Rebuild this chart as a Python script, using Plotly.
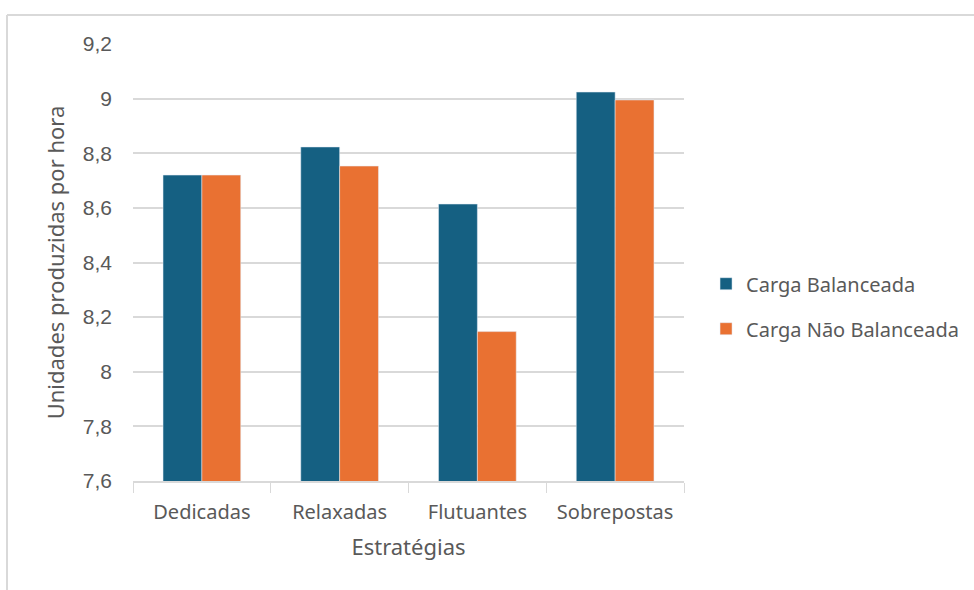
import plotly.graph_objects as go

categories = ["Dedicadas", "Relaxadas", "Flutuantes", "Sobrepostas"]
carga_balanceada = [8.72, 8.823, 8.614, 9.024]
carga_nao_balanceada = [8.72, 8.753, 8.147, 8.995]
series_names = ["Carga Balanceada", "Carga Não Balanceada"]
y_tickvals = [7.6, 7.8, 8.0, 8.2, 8.4, 8.6, 8.8, 9.0, 9.2]
y_ticktext = ["7,6", "7,8", "8", "8,2", "8,4", "8,6", "8,8", "9", "9,2"]

BLUE = "#156082"
ORANGE = "#E97132"
TXT = "#595959"
GRID = "#D9D9D9"
FONT = "Noto Sans"
NUMFONT = "Liberation Sans"

fig = go.Figure()
fig.add_trace(go.Bar(x=categories, y=carga_balanceada, name=series_names[0],
                     marker=dict(color=BLUE), legendgroup="a"))
fig.add_trace(go.Bar(x=categories, y=carga_nao_balanceada, name=series_names[1],
                     marker=dict(color=ORANGE), legendgroup="b"))

fig.update_layout(
    width=974, height=590,
    margin=dict(l=133, r=290, t=44, b=109, autoexpand=False),
    paper_bgcolor="white", plot_bgcolor="white",
    barmode="group", bargap=0.436, bargroupgap=0,
    font=dict(family=FONT, color=TXT, size=18),
    legend=dict(x=1.04, y=0.40, xanchor="left", yanchor="middle",
                font=dict(size=20, color=TXT), tracegroupgap=16,
                itemwidth=30),
    showlegend=True,
)
fig.update_yaxes(range=[7.6, 9.2], tickvals=y_tickvals, ticktext=y_ticktext,
                 showgrid=True, gridcolor=GRID, gridwidth=2, zeroline=False,
                 showline=False, tickfont=dict(family=NUMFONT, size=21, color=TXT),
                 ticklabelstandoff=20,
                 title=dict(text="Unidades produzidas por hora",
                            font=dict(size=22, color=TXT), standoff=12))
fig.update_xaxes(showline=True, linecolor=GRID, linewidth=2,
                 ticks="outside", tickson="boundaries", ticklen=10,
                 tickcolor=GRID, tickwidth=1,
                 tickfont=dict(size=20, color=TXT), ticklabelstandoff=12,
                 title=dict(text="Estratégias", font=dict(size=22, color=TXT),
                            standoff=16))

# outer chart border (top and left edges visible)
fig.add_shape(type="line", xref="paper", yref="paper",
              x0=-0.2287, x1=1.53, y0=1.0664, y1=1.0664,
              line=dict(color=GRID, width=2))
fig.add_shape(type="line", xref="paper", yref="paper",
              x0=-0.2287, x1=-0.2287, y0=1.0664, y1=-0.26,
              line=dict(color=GRID, width=2))

fig.write_html("out.html")
